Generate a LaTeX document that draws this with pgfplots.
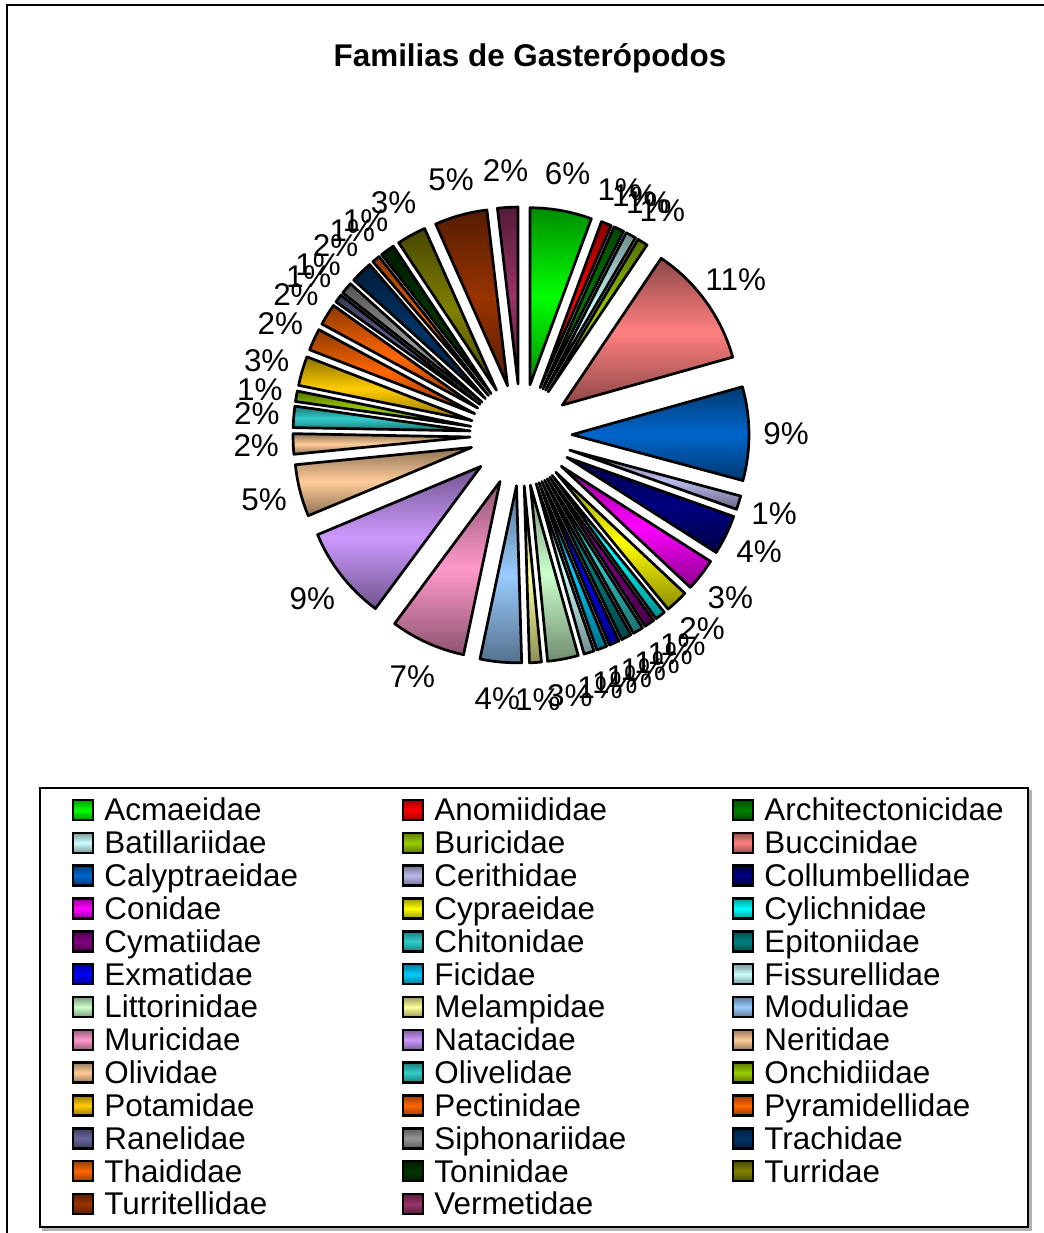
\documentclass[border=0pt]{standalone}
\usepackage{pgfplots}
\pgfplotsset{compat=1.18}
\usepackage{pgfplotstable}
\usepackage{fontspec}
\setmainfont{Liberation Sans}

% one colour per family
\definecolor{c0}{HTML}{00FF00}
\definecolor{c1}{HTML}{FF0000}
\definecolor{c2}{HTML}{008000}
\definecolor{c3}{HTML}{CCFFFF}
\definecolor{c4}{HTML}{99CC00}
\definecolor{c5}{HTML}{FF8080}
\definecolor{c6}{HTML}{0066CC}
\definecolor{c7}{HTML}{BBBBEE}
\definecolor{c8}{HTML}{000080}
\definecolor{c9}{HTML}{FF00FF}
\definecolor{c10}{HTML}{FFFF00}
\definecolor{c11}{HTML}{00FFFF}
\definecolor{c12}{HTML}{800080}
\definecolor{c13}{HTML}{33CCCC}
\definecolor{c14}{HTML}{008080}
\definecolor{c15}{HTML}{0000FF}
\definecolor{c16}{HTML}{00CCFF}
\definecolor{c17}{HTML}{CCFFFF}
\definecolor{c18}{HTML}{CCFFCC}
\definecolor{c19}{HTML}{FFFF99}
\definecolor{c20}{HTML}{99CCFF}
\definecolor{c21}{HTML}{FF99CC}
\definecolor{c22}{HTML}{CC99FF}
\definecolor{c23}{HTML}{FFCC99}
\definecolor{c24}{HTML}{FFCC99}
\definecolor{c25}{HTML}{33CCCC}
\definecolor{c26}{HTML}{99CC00}
\definecolor{c27}{HTML}{FFCC00}
\definecolor{c28}{HTML}{FF6600}
\definecolor{c29}{HTML}{FF6600}
\definecolor{c30}{HTML}{666699}
\definecolor{c31}{HTML}{969696}
\definecolor{c32}{HTML}{003366}
\definecolor{c33}{HTML}{FF6600}
\definecolor{c34}{HTML}{003300}
\definecolor{c35}{HTML}{808000}
\definecolor{c36}{HTML}{993300}
\definecolor{c37}{HTML}{993366}

% share of each family (percent)
\pgfplotstableread[col sep=comma]{
name,value,col
Acmaeidae,5.64,c0
Anomiididae,0.95,c1
Architectonicidae,0.95,c2
Batillariidae,0.95,c3
Buricidae,0.95,c4
Buccinidae,11.22,c5
Calyptraeidae,8.55,c6
Cerithidae,1.25,c7
Collumbellidae,3.61,c8
Conidae,2.97,c9
Cypraeidae,2.08,c10
Cylichnidae,0.94,c11
Cymatiidae,0.94,c12
Chitonidae,0.94,c13
Epitoniidae,0.94,c14
Exmatidae,0.94,c15
Ficidae,0.94,c16
Fissurellidae,0.94,c17
Littorinidae,2.81,c18
Melampidae,1.08,c19
Modulidae,3.78,c20
Muricidae,6.86,c21
Natacidae,8.55,c22
Neritidae,4.75,c23
Olividae,1.86,c24
Olivelidae,1.94,c25
Onchidiidae,0.96,c26
Potamidae,2.68,c27
Pectinidae,2.0,c28
Pyramidellidae,1.97,c29
Ranelidae,0.75,c30
Siphonariidae,1.08,c31
Trachidae,2.0,c32
Thaididae,0.72,c33
Toninidae,1.3,c34
Turridae,2.67,c35
Turritellidae,4.8,c36
Vermetidae,1.86,c37
}\familias

\begin{document}
\begin{tikzpicture}
\fontsize{15.7}{18.8}\selectfont
\pgfplotstablegetrowsof{\familias}
\pgfmathtruncatemacro\nrows{\pgfplotsretval-1}
% total of all shares
\def\total{0}
\pgfplotsforeachungrouped \i in {0,...,\nrows}{%
  \pgfplotstablegetelem{\i}{value}\of\familias
  \pgfmathsetmacro\total{\total+\pgfplotsretval}%
}
\pgfmathsetmacro\degper{360/\total}
\pgfmathsetmacro\pctper{100/\total}
\begin{axis}[
  hide axis, scale only axis,
  width=521.5pt, height=616.5pt,
  xmin=0, xmax=1043, ymin=0, ymax=1233,
  clip=false,
]
\coordinate (bl) at (axis cs:0,0);
\coordinate (tr) at (axis cs:1043,1233);

% outer frame
\draw[line width=1pt] (axis cs:7,-20) -- (axis cs:7,1228) -- (axis cs:1080,1228);

% title
\node[anchor=base, font=\bfseries] at (axis cs:530,1166) {Familias de Gasterópodos};

% exploded pie, clockwise from the top; centre (521,798), radius 177, offset 51
\def\cum{0}
\pgfplotsforeachungrouped \i in {0,...,\nrows}{%
  \pgfplotstablegetelem{\i}{value}\of\familias \let\val\pgfplotsretval
  \pgfplotstablegetelem{\i}{col}\of\familias \let\col\pgfplotsretval
  \pgfmathsetmacro\aS{90-\degper*\cum}%
  \pgfmathsetmacro\cum{\cum+\val}%
  \pgfmathsetmacro\aE{90-\degper*\cum}%
  \pgfmathsetmacro\aM{(\aS+\aE)/2}%
  \pgfmathsetmacro\px{521+51*cos(\aM)}%
  \pgfmathsetmacro\py{798+51*sin(\aM)}%
  \pgfmathsetmacro\lx{521+265*cos(\aM)}%
  \pgfmathsetmacro\ly{798+265*sin(\aM)}%
  \pgfmathtruncatemacro\pct{round(\pctper*\val)}%
  \edef\slice{%
    \noexpand\draw[line width=1.35pt, line join=round,
      top color=\col!55!black, bottom color=\col!55!black, middle color=\col]
      (axis cs:\px,\py) -- ++(\aS:88.5pt) arc[start angle=\aS, end angle=\aE, radius=88.5pt] -- cycle;
    \noexpand\node[anchor=center, inner sep=0pt] at (axis cs:\lx,\ly) {\pct\noexpand\%};
  }%
  \slice
}

% legend
\draw[line width=2pt, gray!60] (axis cs:42,4) -- (axis cs:1030,4) -- (axis cs:1030,443);
\draw[line width=0.7pt] (axis cs:40,6) rectangle (axis cs:1028,445);
\pgfplotsforeachungrouped \i in {0,...,\nrows}{%
  \pgfplotstablegetelem{\i}{name}\of\familias \let\nm\pgfplotsretval
  \pgfplotstablegetelem{\i}{col}\of\familias \let\col\pgfplotsretval
  \pgfmathtruncatemacro\row{floor(\i/3)}%
  \pgfmathtruncatemacro\cl{mod(\i,3)}%
  \pgfmathsetmacro\my{1233-810-32.83*\row}%
  \pgfmathsetmacro\mx{83+330*\cl}%
  \pgfmathsetmacro\tx{104+330*\cl}%
  \pgfmathsetmacro\ty{\my-11}%
  \pgfmathsetmacro\xa{\mx-10}\pgfmathsetmacro\xb{\mx+10}%
  \pgfmathsetmacro\ya{\my-10}\pgfmathsetmacro\yb{\my+10}%
  \edef\entry{%
    \noexpand\draw[line width=1.3pt, top color=\col!60!black, bottom color=\col!60!black, middle color=\col]
      (axis cs:\xa,\ya) rectangle (axis cs:\xb,\yb);
    \noexpand\node[anchor=base west, inner sep=0pt] at (axis cs:\tx,\ty) {\nm};
  }%
  \entry
}
\end{axis}
\pgfresetboundingbox
\path[use as bounding box] (bl) rectangle (tr);
\end{tikzpicture}
\end{document}
